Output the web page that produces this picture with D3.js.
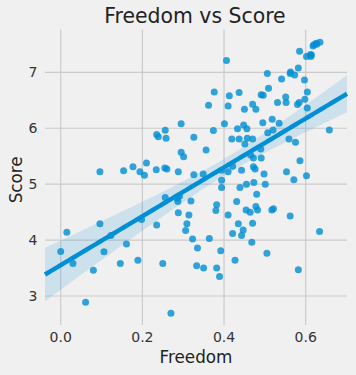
<!DOCTYPE html>
<html><head><meta charset="utf-8">
<script src="https://cdn.jsdelivr.net/npm/d3@7"></script>
<style>html,body{margin:0;padding:0;background:#f0f0f0;}svg{display:block;font-family:"DejaVu Sans",sans-serif;}</style>
</head><body>
<svg id="chart" width="356" height="375"></svg>
<script>
const title = "Freedom vs Score";
const xLabel = "Freedom";
const yLabel = "Score";
const xTicks = [0.0, 0.2, 0.4, 0.6];
const yTicks = [3, 4, 5, 6, 7];
const xTickLabels = ["0.0", "0.2", "0.4", "0.6"];
const yTickLabels = ["3", "4", "5", "6", "7"];

const freedom = [0.635,0.626,0.627,0.620,0.618,0.585,0.611,0.614,0.613,0.602,
0.406,0.582,0.563,0.506,0.562,0.573,0.541,0.597,0.509,0.376,
0.604,0.437,0.491,0.496,0.413,0.551,0.598,0.552,0.531,0.584,
0.470,0.580,0.362,0.410,0.604,0.450,0.478,0.518,0.495,0.295,
0.535,0.401,0.448,0.433,0.456,0.520,0.658,0.256,0.374,0.507,
0.235,0.239,0.326,0.258,0.419,0.437,0.457,0.470,0.559,0.575,
0.451,0.490,0.356,0.295,0.465,0.301,0.472,0.491,0.586,0.210,
0.421,0.177,0.472,0.255,0.476,0.260,0.234,0.443,0.394,0.154,
0.096,0.194,0.288,0.410,0.553,0.205,0.498,0.349,0.326,0.602,
0.571,0.394,0.473,0.455,0.501,0.394,0.439,0.480,0.291,0.256,
0.285,0.319,0.287,0.431,0.382,0.478,0.521,0.454,0.482,0.517,
0.380,0.464,0.288,0.314,0.410,0.562,0.198,0.470,0.096,0.435,
0.309,0.235,0.447,0.306,0.634,0.015,0.421,0.443,0.123,0.364,
0.323,0.468,0.161,0.335,0.392,0.000,0.106,0.505,0.189,0.427,
0.146,0.030,0.250,0.333,0.350,0.382,0.582,0.080,0.389,0.061,
0.270];
const score = [7.537,7.522,7.504,7.494,7.469,7.377,7.316,7.314,7.284,7.284,
7.213,7.079,7.006,6.980,6.977,6.951,6.880,6.863,6.714,6.650,
6.648,6.640,6.600,6.590,6.580,6.560,6.520,6.460,6.460,6.460,
6.430,6.424,6.410,6.400,6.360,6.340,6.340,6.160,6.100,6.080,
6.090,6.080,6.060,5.990,5.990,5.970,5.971,5.964,5.960,5.920,
5.890,5.850,5.840,5.820,5.810,5.810,5.820,5.810,5.810,5.750,
5.720,5.630,5.610,5.570,5.520,5.490,5.470,5.470,5.420,5.380,
5.320,5.310,5.310,5.290,5.270,5.270,5.260,5.250,5.250,5.240,
5.220,5.220,5.220,5.220,5.220,5.160,5.180,5.180,5.170,5.150,
5.080,5.070,5.030,5.000,5.000,4.940,4.940,4.820,4.790,4.760,
4.750,4.700,4.690,4.690,4.630,4.600,4.560,4.540,4.540,4.540,
4.530,4.500,4.490,4.450,4.450,4.430,4.370,4.300,4.290,4.290,
4.290,4.270,4.180,4.170,4.155,4.140,4.120,4.080,4.080,4.030,
4.020,3.960,3.930,3.860,3.810,3.795,3.790,3.766,3.640,3.640,
3.580,3.580,3.580,3.540,3.500,3.500,3.471,3.460,3.350,2.890,
2.693];

const svg = d3.select("#chart");
const W = 356, H = 375;
svg.append("rect").attr("width", W).attr("height", H).attr("fill", "#f0f0f0");

const pL = 45, pR = 347, pT = 29.7, pB = 325;
const x = d3.scaleLinear().domain([-0.0385, 0.7012]).range([pL, pR]);
const y = d3.scaleLinear().domain([2.4815, 7.7625]).range([pB, pT]);

const g = svg.append("g");
g.selectAll("line.gx").data(xTicks).join("line").attr("class", "gx")
  .attr("x1", d => x(d)).attr("x2", d => x(d)).attr("y1", pT).attr("y2", pB)
  .attr("stroke", "#cbcbcb").attr("stroke-width", 1.2);
g.selectAll("line.gy").data(yTicks).join("line").attr("class", "gy")
  .attr("y1", d => y(d)).attr("y2", d => y(d)).attr("x1", pL).attr("x2", pR)
  .attr("stroke", "#cbcbcb").attr("stroke-width", 1.2);

const n = Math.min(freedom.length, score.length);
const pts = d3.range(n).map(i => ({f: freedom[i], s: score[i]}));
g.append("g").selectAll("circle").data(pts).join("circle")
  .attr("cx", d => x(d.f)).attr("cy", d => y(d.s)).attr("r", 3.5)
  .attr("fill", "#008fd5").attr("fill-opacity", 0.8);

const mx = d3.mean(pts, p => p.f), my = d3.mean(pts, p => p.s);
let sxx = 0, sxy = 0;
pts.forEach(p => { sxx += (p.f - mx) ** 2; sxy += (p.f - mx) * (p.s - my); });
const b = sxy / sxx, a = my - b * mx;
let sse = 0; pts.forEach(p => { sse += (p.s - (a + b * p.f)) ** 2; });
const sres = Math.sqrt(sse / (n - 2));
const tval = 1.976;
const [x0, x1] = x.domain();
const fit = d3.range(0, 101).map(i => {
  const gx = x0 + (x1 - x0) * i / 100;
  const yh = a + b * gx;
  const se = sres * Math.sqrt(1 / n + (gx - mx) ** 2 / sxx);
  return {gx, yh, lo: yh - tval * se, hi: yh + tval * se};
});
g.append("path").datum(fit)
  .attr("d", d3.area().x(d => x(d.gx)).y0(d => y(d.lo)).y1(d => y(d.hi)))
  .attr("fill", "#008fd5").attr("fill-opacity", 0.15);
g.append("path").datum(fit)
  .attr("d", d3.line().x(d => x(d.gx)).y(d => y(d.yh)))
  .attr("fill", "none").attr("stroke", "#008fd5").attr("stroke-width", 4.5);

g.selectAll("text.xt").data(xTicks).join("text").attr("class", "xt")
  .attr("x", d => x(d)).attr("y", 342).attr("text-anchor", "middle")
  .attr("font-size", 14).attr("fill", "#333").text((d, i) => xTickLabels[i]);
g.selectAll("text.yt").data(yTicks).join("text").attr("class", "yt")
  .attr("x", 37.5).attr("y", d => y(d)).attr("dy", "0.36em").attr("text-anchor", "end")
  .attr("font-size", 14).attr("fill", "#333").text((d, i) => yTickLabels[i]);

svg.append("text").attr("x", (pL + pR) / 2).attr("y", 363).attr("text-anchor", "middle")
  .attr("font-size", 16.8).attr("fill", "#222").text(xLabel);
svg.append("text").attr("transform", `translate(21.5,${(pT + pB) / 2 + 2.5}) rotate(-90)`)
  .attr("text-anchor", "middle").attr("font-size", 16.8).attr("fill", "#222").text(yLabel);
svg.append("text").attr("x", (pL + pR) / 2 - 1).attr("y", 23).attr("text-anchor", "middle")
  .attr("font-size", 20.4).attr("fill", "#222").text(title);
</script>
</body></html>
